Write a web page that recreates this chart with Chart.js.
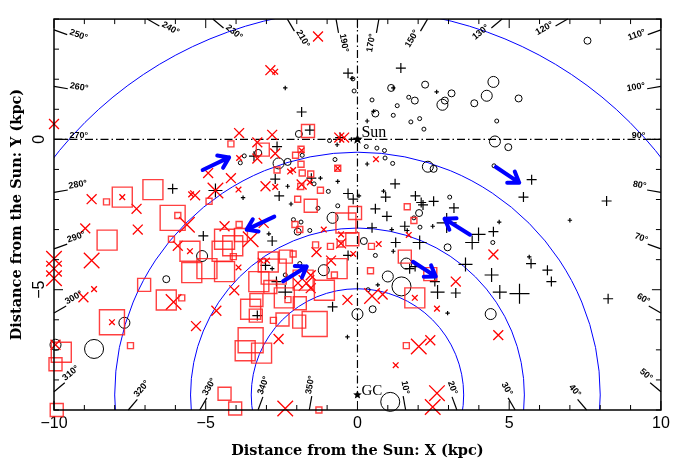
<!DOCTYPE html>
<html>
<head>
<meta charset="utf-8">
<script src="https://cdn.jsdelivr.net/npm/chart.js@4/dist/chart.umd.min.js"></script>
<style>
  html, body { margin: 0; padding: 0; background: #fff; }
  #wrap { width: 680px; height: 462px; }
</style>
</head>
<body>
<div id="wrap"><canvas id="c" width="680" height="462"></canvas></div>
<script>
// axes (kpc)
const xTicks = [-10, -5, 0, 5, 10];
const yTicks = [-5, 0];
const sun = [0, 0];
const gc = [0, -8.5];
const ringRadii = [3.5, 5.5, 8, 12.7];
const longitudes = [250, 260, 270, 280, 290, 300, 310, 320, 330, 340, 350,
  10, 20, 30, 40, 50, 60, 70, 80, 90, 100, 110, 120, 130, 150, 170, 190, 210, 230, 240];

// [x, y, size class]
const blackPlus = [
  [-6.09,-1.64,2],[-5.08,-3.21,2],[-2.38,1.71,1],[-1.84,0.91,2],[-1.57,0.31,2],[-3.41,-0.56,2],
  [-2.65,-0.24,2],[-0.67,-0.18,1],[-0.57,0.06,2],[-0.31,2.2,2],[-0.18,2.03,1],[-0.65,-1.4,1],
  [-1.52,-1.29,2],[-1.22,-1.29,1],[-2.71,-1.32,2],[-2.3,-1.56,1],[-2.58,-1.88,2],[-2.19,-2.15,1],
  [-0.31,-1.8,2],[-0.14,-1.99,2],[-3.77,-1.94,1],[-4.68,-1.7,3],[1.43,2.37,2],[1.18,1.71,1],
  [2.61,1.58,1],[0.53,0.93,1],[0.32,0.61,1],[0.32,-0.82,1],[1.24,-1.48,2],[0.86,-1.72,1],
  [0.93,-1.92,2],[1.91,-1.88,2],[2.1,-2.1,2],[2.16,-2.18,2],[2.51,-2.06,2],[3.18,-2.28,2],
  [0.59,-2.31,2],[0.05,-1.88,1],[5.74,-1.34,2],[5.47,-1.92,2],[8.21,-2.05,2],[0.97,-2.56,2],
  [0.48,-2.94,2],[1.13,-3.0,1],[1.56,-2.89,2],[1.64,-3.03,1],[2.48,-2.89,1],[2.94,-2.78,4],
  [4.67,-2.75,1],[2.05,-3.43,3],[1.26,-3.43,2],[1.18,-3.72,1],[3.78,-3.43,3],[3.99,-3.16,3],
  [4.48,-3.07,2],[1.72,-4.3,2],[1.9,-4.23,2],[2.55,-4.73,2],[2.64,-5.08,3],[3.24,-5.11,2],
  [3.56,-4.16,3],[4.42,-4.51,3],[4.69,-5.08,3],[0.67,-4.84,1],[2.97,-5.78,1],[7.0,-2.69,1],
  [5.72,-4.13,2],[5.66,-3.91,1],[6.26,-4.35,2],[6.39,-4.73,2],[5.34,-5.13,4],[8.26,-5.3,2],
  [-2.81,-3.38,2],[-2.92,-3.14,1],[-0.31,-3.86,2],[-3.03,-4.19,2],[-2.81,-4.3,1],[-2.67,-4.73,2],
  [-0.82,-5.57,2],[-2.38,-5.08,3],[-3.3,-5.86,2],[-0.33,-6.57,1],[-0.2,0.0,1]
];
const blackCircle = [
  [-5.12,-3.88,3],[-6.3,-4.65,2],[-7.68,-6.1,3],[-8.68,-6.97,4],[-9.95,-6.83,3],[-1.93,0.18,2],
  [-3.27,-0.45,2],[-3.73,-0.55,1],[-3.86,-0.78,1],[-1.82,-0.53,1],[-2.6,-0.8,3],[-2.3,-0.75,2],
  [-0.92,-0.04,1],[-0.15,2.01,1],[-0.11,1.61,1],[-0.74,-0.67,1],[-1.43,-1.48,1],[-0.96,-1.73,1],
  [-1.3,-2.29,1],[-0.65,-2.21,1],[-0.82,-2.61,3],[1.11,1.71,2],[2.23,1.82,2],[3.1,1.53,2],
  [2.88,1.29,2],[2.8,1.15,3],[3.85,1.2,2],[4.26,1.45,3],[4.48,1.91,3],[1.69,1.4,1],
  [1.89,1.29,2],[0.48,1.31,1],[1.31,1.12,1],[0.59,0.86,2],[1.18,0.8,1],[2.05,0.69,1],
  [1.76,0.58,1],[2.19,0.34,1],[4.59,0.61,1],[4.53,-0.07,3],[4.97,-0.26,2],[4.5,-0.88,1],
  [0.29,-0.24,1],[0.64,-0.29,1],[0.89,-0.37,1],[0.91,-0.62,1],[1.16,-0.8,1],[2.32,-0.91,3],
  [2.51,-0.98,2],[3.04,-1.92,1],[7.58,3.28,2],[5.31,1.36,2],[0.21,-3.38,2],[2.97,-3.59,2],
  [0.59,-3.86,1],[1.61,-4.13,3],[1.0,-4.56,3],[1.45,-4.89,4],[4.39,-5.81,3],[0.5,-5.65,2],
  [0.35,-5.0,1],[0.0,-5.81,3],[1.08,-8.73,4],[-1.11,-4.35,3],[-1.9,-4.13,1],[-2.38,-4.51,1],
  [-1.97,-3.07,2],[-2.11,-2.67,1],[-1.86,-2.75,1],[-1.57,-3.03,1],[1.86,-2.61,1],[2.03,-2.45,2],
  [2.06,-2.92,1],[4.46,-3.43,1]
];
const redCross = [
  [-10,0.51,2],[-8.76,-1.99,2],[-7.28,-2.31,2],[-5.35,-1.86,2],[-5.48,-1.83,1],[-7.75,-1.92,1],
  [-8.97,-2.96,2],[-7.24,-3.0,2],[-5.62,-2.84,3],[-5.92,-3.54,2],[-5.52,-3.72,1],[-8.76,-4.03,3],
  [-10,-3.97,3],[-10,-4.3,3],[-10,-4.62,3],[-8.68,-4.98,1],[-9.03,-5.25,2],[-6.06,-5.41,3],
  [-8.09,-6.08,1],[-5.32,-6.21,2],[-9.95,-6.83,2],[-1.3,3.42,2],[-2.87,2.3,2],[-2.71,2.25,1],
  [-3.9,0.21,2],[-2.81,0.15,2],[-3.3,-0.1,2],[-3.9,-0.62,1],[-2.71,-0.47,2],[-3.3,-0.64,2],
  [-1.84,-0.37,1],[-0.6,0.06,2],[-0.44,0.06,2],[-0.65,-0.96,1],[-2.22,-1.07,1],[-2.12,-1.02,1],
  [-1.57,-1.43,1],[-1.84,-1.5,2],[-2.71,-1.58,1],[-3.03,-1.56,2],[-4.17,-1.29,2],[-4.92,-1.12,2],
  [-3.92,-1.67,1],[-4.68,-1.7,3],[0.61,-0.66,1],[-4.38,-2.89,2],[-3.52,-3.32,3],[-3.09,-2.78,2],
  [-3.92,-4.26,1],[-1.11,-3.0,1],[-0.54,-3.16,1],[-0.54,-3.46,2],[-1.35,-3.75,2],[-0.87,-4.03,2],
  [-1.68,-4.78,3],[-1.96,-4.78,2],[-1.54,-4.52,2],[-1.54,-4.95,2],[-0.33,-5.34,2],[-2.6,-6.64,2],
  [-2.38,-8.95,3],[1.69,-3.18,1],[0.7,-3.48,1],[4.48,-3.83,2],[3.24,-4.73,2],[0.48,-5.21,3],
  [0.83,-5.16,2],[2.62,-5.63,1],[4.64,-6.51,2],[2.02,-6.89,3],[2.4,-6.68,2],[1.26,-7.51,1],
  [2.62,-8.44,3],[2.48,-8.9,3],[1.89,-5.27,1],[-0.14,-3.81,1],[-3.19,-4.03,1],[-2.98,-4.03,1],
  [-4.06,-5.02,2],[-4.65,-5.7,2]
];
const redSquare = [
  [-8.27,-2.08,1],[-7.75,-1.92,3],[-6.74,-1.67,3],[-6.09,-2.61,4],[-5.92,-2.53,1],[-8.25,-3.35,3],
  [-6.13,-3.32,1],[-5.52,-3.72,3],[-5.46,-4.43,3],[-7.03,-4.84,2],[-6.3,-5.34,3],[-5.79,-5.27,1],
  [-8.09,-6.08,4],[-7.48,-6.86,1],[-9.76,-7.08,3],[-9.95,-7.48,2],[-9.91,-9.0,2],[-1.63,0.28,2],
  [-4.17,-0.15,1],[-3.12,-0.34,2],[-2.04,-0.53,1],[-1.86,-0.33,1],[-2.65,-1.02,1],[-0.65,-0.96,1],
  [-1.82,-1.12,1],[-1.87,-1.57,1],[-1.22,-1.69,1],[-1.97,-1.99,1],[-1.54,-2.21,2],[-4.89,-2.06,1],
  [1.64,-2.24,1],[1.86,-2.7,1],[0.46,-3.56,1],[1.56,-3.9,2],[2.4,-4.48,2],[1.89,-5.27,3],
  [0.43,-4.37,1],[1.61,-6.86,1],[-3.9,-2.83,1],[-3.84,-3.18,2],[-4.38,-3.32,3],[-4.11,-3.54,3],
  [-4.09,-3.9,1],[-4.46,-3.72,3],[-4.38,-4.4,3],[-4.96,-4.3,3],[-2.06,-2.83,1],[-1.9,-3.0,1],
  [-0.38,-2.78,3],[-0.17,-3.32,2],[-1.38,-3.51,1],[-0.89,-3.56,1],[-0.57,-3.48,1],[-0.67,-4.3,3],
  [-0.76,-4.51,1],[-2.36,-3.9,2],[-2.12,-3.81,1],[-2.94,-4.08,3],[-2.76,-4.4,4],[-3.25,-4.73,3],
  [-2.87,-4.91,2],[-1.79,-4.68,3],[-1.09,-5.02,3],[-2.41,-5.27,3],[-2.29,-5.33,1],[-1.9,-5.45,2],
  [-3.33,-5.34,2],[-3.52,-5.65,3],[-3.35,-5.86,2],[-2.47,-5.99,2],[-2.77,-6.02,1],[-1.92,-6.06,2],
  [-1.41,-6.14,4],[-3.52,-6.68,4],[-3.7,-7.03,3],[-3.16,-7.11,3],[-4.38,-8.46,2],[-4.03,-8.95,2],
  [-1.27,-9.0,1],[-0.08,-2.45,2],[-1.86,-0.83,1],[-1.54,-1.15,1]
];
// [x0, y0, x1, y1]
const arrows = [
  [-5.1,-1.02,-4.23,-0.6],
  [4.56,-0.92,5.33,-1.44],
  [3.71,-3.17,2.87,-2.64],
  [1.83,-4.07,2.58,-4.56],
  [-2.74,-2.57,-3.65,-3.0],
  [-2.45,-4.72,-1.67,-4.23]
];

// marker radius (px) per size class
const plusR = [0, 2.2, 5, 7, 10];
const crossR = [0, 4, 7, 11];
const squareR = [0, 3, 6.5, 10, 12.5];
const circleR = [0, 2, 3.5, 5.5, 9.5];

const toPts = arr => arr.map(p => ({ x: p[0], y: p[1] }));
const minus = v => String(v).replace('-', '\u2212');

function drawStar(ctx, cx, cy, R, r) {
  ctx.beginPath();
  for (let i = 0; i < 10; i++) {
    const a = -Math.PI / 2 + i * Math.PI / 5;
    const rr = i % 2 ? r : R;
    ctx.lineTo(cx + rr * Math.cos(a), cy + rr * Math.sin(a));
  }
  ctx.closePath();
  ctx.fill();
}

const overlay = {
  id: 'overlay',
  beforeDatasetsDraw(chart) {
    const { ctx, chartArea: a, scales: { x, y } } = chart;
    ctx.save();
    ctx.beginPath();
    ctx.rect(a.left, a.top, a.right - a.left, a.bottom - a.top);
    ctx.clip();
    // rings around the GC
    const k = x.getPixelForValue(1) - x.getPixelForValue(0);
    ctx.strokeStyle = '#0000ff';
    ctx.lineWidth = 1;
    ringRadii.forEach(r => {
      ctx.beginPath();
      ctx.arc(x.getPixelForValue(gc[0]), y.getPixelForValue(gc[1]), r * k, 0, Math.PI * 2);
      ctx.stroke();
    });
    // dash-dot lines through the Sun
    ctx.strokeStyle = '#000';
    ctx.lineWidth = 1.2;
    ctx.setLineDash([8, 3, 1.5, 3]);
    ctx.beginPath();
    ctx.moveTo(a.left, y.getPixelForValue(sun[1]));
    ctx.lineTo(a.right, y.getPixelForValue(sun[1]));
    ctx.moveTo(x.getPixelForValue(sun[0]), a.top);
    ctx.lineTo(x.getPixelForValue(sun[0]), y.getPixelForValue(gc[1]));
    ctx.stroke();
    ctx.restore();
  },
  afterDatasetsDraw(chart) {
    const { ctx, chartArea: a, scales: { x, y } } = chart;
    ctx.save();
    // frame and inside ticks
    ctx.strokeStyle = '#000';
    ctx.lineWidth = 1.5;
    ctx.strokeRect(a.left, a.top, a.right - a.left, a.bottom - a.top);
    ctx.lineWidth = 1;
    ctx.beginPath();
    for (let v = Math.ceil(x.min); v <= x.max; v++) {
      const px = x.getPixelForValue(v), len = v % 5 === 0 ? 9 : 5;
      ctx.moveTo(px, a.bottom); ctx.lineTo(px, a.bottom - len);
      ctx.moveTo(px, a.top); ctx.lineTo(px, a.top + len);
    }
    for (let v = Math.ceil(y.min); v <= y.max; v++) {
      const py = y.getPixelForValue(v), len = v % 5 === 0 ? 9 : 5;
      ctx.moveTo(a.left, py); ctx.lineTo(a.left + len, py);
      ctx.moveTo(a.right, py); ctx.lineTo(a.right - len, py);
    }
    ctx.stroke();

    // y tick labels, rotated
    ctx.fillStyle = '#000';
    ctx.font = '16px "Liberation Sans"';
    ctx.textAlign = 'center';
    ctx.textBaseline = 'middle';
    yTicks.forEach(v => {
      ctx.save();
      ctx.translate(a.left - 14, y.getPixelForValue(v));
      ctx.rotate(-Math.PI / 2);
      ctx.fillText(minus(v), 0, 0);
      ctx.restore();
    });

    // galactic longitude marks along the frame
    const x0 = x.getPixelForValue(sun[0]), y0 = y.getPixelForValue(sun[1]);
    ctx.font = 'bold 9px "Liberation Sans"';
    ctx.lineWidth = 1.2;
    longitudes.forEach(l => {
      const ang = l * Math.PI / 180;
      const dx = Math.sin(ang), dy = -Math.cos(ang);
      let t = Infinity;
      if (dx > 1e-9) t = Math.min(t, x.max / dx);
      if (dx < -1e-9) t = Math.min(t, x.min / dx);
      if (dy > 1e-9) t = Math.min(t, y.max / dy);
      if (dy < -1e-9) t = Math.min(t, y.min / dy);
      const px = x.getPixelForValue(t * dx), py = y.getPixelForValue(t * dy);
      let ux = px - x0, uy = py - y0;
      const n = Math.hypot(ux, uy); ux /= n; uy /= n;
      const ax = px - ux * 14, ay = py - uy * 14;
      ctx.beginPath(); ctx.moveTo(ax, ay); ctx.lineTo(px, py); ctx.stroke();
      let rot = Math.atan2(-uy, -ux), align = 'left';
      if (rot > Math.PI / 2 + 1e-6 || rot < -Math.PI / 2 - 1e-6) { rot = Math.atan2(uy, ux); align = 'right'; }
      ctx.save();
      ctx.translate(ax - ux * 1.5, ay - uy * 1.5);
      ctx.rotate(rot);
      ctx.textAlign = align;
      ctx.textBaseline = 'alphabetic';
      ctx.fillText(l + '\u00b0', 0, -1);
      ctx.restore();
    });

    // blue arrows
    ctx.strokeStyle = '#0000ff';
    ctx.lineWidth = 4;
    ctx.lineCap = 'round';
    ctx.lineJoin = 'round';
    arrows.forEach(([a0, b0, a1, b1]) => {
      const sx = x.getPixelForValue(a0), sy = y.getPixelForValue(b0);
      const ex = x.getPixelForValue(a1), ey = y.getPixelForValue(b1);
      const th = Math.atan2(ey - sy, ex - sx), h = 12, w = 0.6;
      ctx.beginPath();
      ctx.moveTo(sx, sy); ctx.lineTo(ex, ey);
      ctx.moveTo(ex - h * Math.cos(th - w), ey - h * Math.sin(th - w));
      ctx.lineTo(ex, ey);
      ctx.lineTo(ex - h * Math.cos(th + w), ey - h * Math.sin(th + w));
      ctx.stroke();
    });

    // Sun and GC
    ctx.fillStyle = '#000';
    const sx = x.getPixelForValue(sun[0]), sy = y.getPixelForValue(sun[1]);
    const gx = x.getPixelForValue(gc[0]), gy = y.getPixelForValue(gc[1]);
    drawStar(ctx, sx, sy, 5.5, 2.3);
    drawStar(ctx, gx, gy, 4.5, 2);
    ctx.textAlign = 'left';
    ctx.textBaseline = 'alphabetic';
    ctx.font = '16px "Liberation Serif"';
    ctx.fillText('Sun', sx + 4, sy - 2);
    ctx.font = '15px "Liberation Serif"';
    ctx.fillText('GC', gx + 4, gy);
    ctx.restore();
  }
};

new Chart(document.getElementById('c'), {
  type: 'scatter',
  data: {
    datasets: [
      {
        data: toPts(redSquare),
        pointStyle: 'rect',
        pointRadius: redSquare.map(p => squareR[p[2]] * Math.SQRT2),
        borderColor: 'rgba(255,30,30,0.85)',
        backgroundColor: 'rgba(0,0,0,0)',
        borderWidth: 1.4,
        clip: false
      },
      {
        data: toPts(redCross),
        pointStyle: 'crossRot',
        pointRadius: redCross.map(p => crossR[p[2]]),
        borderColor: '#ff0000',
        borderWidth: 1.3,
        clip: false
      },
      {
        data: toPts(blackCircle),
        pointStyle: 'circle',
        pointRadius: blackCircle.map(p => circleR[p[2]]),
        borderColor: '#000',
        backgroundColor: 'rgba(0,0,0,0)',
        borderWidth: 1,
        clip: false
      },
      {
        data: toPts(blackPlus),
        pointStyle: 'cross',
        pointRadius: blackPlus.map(p => plusR[p[2]]),
        borderColor: '#000',
        borderWidth: 1.2,
        clip: false
      }
    ]
  },
  options: {
    responsive: false,
    animation: false,
    events: [],
    layout: { padding: { top: 9, right: 9, left: 0, bottom: 0 } },
    plugins: { legend: { display: false }, tooltip: { enabled: false } },
    scales: {
      x: {
        type: 'linear',
        min: -10,
        max: 10,
        grid: { display: false, drawTicks: false },
        border: { display: false },
        afterBuildTicks: s => { s.ticks = xTicks.map(v => ({ value: v })); },
        afterFit: s => { s.height = 52; },
        ticks: {
          padding: 4,
          color: '#000',
          font: { family: 'Liberation Sans', size: 16 },
          callback: v => minus(v)
        },
        title: {
          display: true,
          text: 'Distance from the Sun: X (kpc)',
          color: '#000',
          font: { family: 'DejaVu Serif', size: 14.5, weight: 'bold' },
          padding: { top: 0, bottom: 2 }
        }
      },
      y: {
        type: 'linear',
        min: -9,
        max: 4,
        grid: { display: false, drawTicks: false },
        border: { display: false },
        afterFit: s => { s.width = 54; },
        ticks: { display: false },
        title: {
          display: true,
          text: 'Distance from the Sun: Y (kpc)',
          color: '#000',
          font: { family: 'DejaVu Serif', size: 14.5, weight: 'bold' },
          padding: { top: 9, bottom: 0 }
        }
      }
    }
  },
  plugins: [overlay]
});
</script>
</body>
</html>
